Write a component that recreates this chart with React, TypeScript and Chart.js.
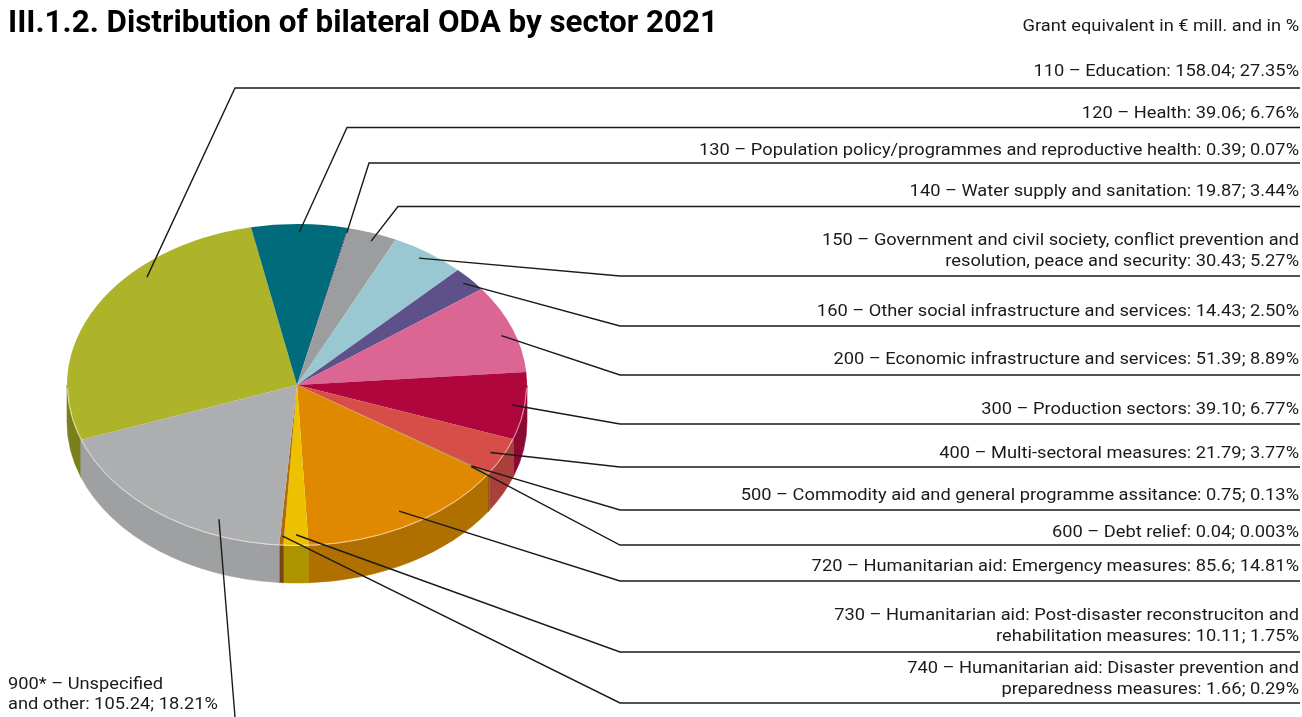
import React, { useEffect, useRef } from "react";
import { Chart, registerables } from "chart.js";
Chart.register(...registerables);

// ---------- data ----------
const codes = ["110", "120", "130", "140", "150", "160", "200", "300", "400", "500", "600", "720", "730", "740", "900*"];
const sectors = [
  "Education",
  "Health",
  "Population policy/programmes and reproductive health",
  "Water supply and sanitation",
  "Government and civil society, conflict prevention and\nresolution, peace and security",
  "Other social infrastructure and services",
  "Economic infrastructure and services",
  "Production sectors",
  "Multi-sectoral measures",
  "Commodity aid and general programme assitance",
  "Debt relief",
  "Humanitarian aid: Emergency measures",
  "Humanitarian aid: Post-disaster reconstruciton and\nrehabilitation measures",
  "Humanitarian aid: Disaster prevention and\npreparedness measures",
  "Unspecified\nand other",
];
const values = [158.04, 39.06, 0.39, 19.87, 30.43, 14.43, 51.39, 39.1, 21.79, 0.75, 0.04, 85.6, 10.11, 1.66, 105.24];
const valueTexts = ["158.04", "39.06", "0.39", "19.87", "30.43", "14.43", "51.39", "39.10", "21.79", "0.75", "0.04", "85.6", "10.11", "1.66", "105.24"];
const shareTexts = ["27.35", "6.76", "0.07", "3.44", "5.27", "2.50", "8.89", "6.77", "3.77", "0.13", "0.003", "14.81", "1.75", "0.29", "18.21"];

const TITLE = "III.1.2. Distribution of bilateral ODA by sector 2021";
const SUBTITLE = "Grant equivalent in € mill. and in %";

// ---------- style / layout ----------
const topColors = ["#aeb42a", "#006c7b", "#7e3f73", "#9c9d9f", "#99c8d3", "#5e5088", "#db6694", "#ae063d", "#d74d48", "#a8862a", "#6b4a1a", "#df8800", "#ecc100", "#b06a0a", "#adaeaf"];
const sideColors = ["#7b7f1b", "#004f5a", "#5a2d53", "#7f8082", "#6f9199", "#433a62", "#a24c6d", "#8c0933", "#a9403b", "#8a6d20", "#5a3d14", "#b07000", "#ad9300", "#7c4414", "#9fa0a2"];
const SQUASH = 0.7;
const DEPTH = 37;
const labelBaselines = [76, 118, 155, 196, 245, 316, 364, 414, 458, 500, 537, 571, 620, 673, 689];
const underlineYs = [88, 127.5, 163, 206.5, 276, 326, 375, 424, 467, 510, 545, 581, 652, 703, 717];
const cornerXs = [235, 347, 369, 398, 620, 620, 620, 620, 620, 620, 620, 620, 620, 620, 235];
const anchorFracs = [0.668, 0.5, 0.5, 0.55, 0.45, 0.5, 0.55, 0.5, 0.5, 0.5, 0.5, 0.5, 0.5, 0.5, 0.27];
const anchorRadii = [0.935, 0.95, 0.97, 0.95, 0.95, 0.96, 0.94, 0.945, 0.94, 0.91, 0.91, 0.9, 0.93, 0.94, 0.9];
const LINE_H = 21;
const RIGHT_X = 1299;
const FONT = "Roboto, 'Noto Sans', sans-serif";

function drawScaled(ctx: CanvasRenderingContext2D, text: string, x: number, y: number, align: CanvasTextAlign, sx: number) {
  ctx.save();
  ctx.translate(x, y);
  ctx.scale(sx, 1);
  ctx.textAlign = align;
  ctx.textBaseline = "alphabetic";
  ctx.fillText(text, 0, 0);
  ctx.restore();
}

const pie3d = {
  id: "pie3d",
  beforeDatasetsDraw(chart: any) {
    const ctx: CanvasRenderingContext2D = chart.ctx;
    const arcs = chart.getDatasetMeta(0).data;
    const a0 = arcs[0];
    const cx = a0.x, cy = a0.y, r = a0.outerRadius;
    const ry = r * SQUASH;
    const TWO = Math.PI * 2;
    arcs.forEach((arc: any, i: number) => {
      let s = arc.startAngle, e = arc.endAngle;
      const off = Math.floor(s / TWO) * TWO;
      s -= off; e -= off;
      for (const [lo, hi] of [[0, Math.PI], [TWO, TWO + Math.PI]]) {
        const a = Math.max(s, lo), b = Math.min(e, hi);
        if (b > a) {
          ctx.beginPath();
          ctx.ellipse(cx, cy, r, ry, 0, a, b, false);
          ctx.lineTo(cx + r * Math.cos(b), cy + DEPTH + ry * Math.sin(b));
          ctx.ellipse(cx, cy + DEPTH, r, ry, 0, b, a, true);
          ctx.closePath();
          ctx.fillStyle = sideColors[i];
          ctx.fill();
          ctx.strokeStyle = sideColors[i];
          ctx.lineWidth = 0.6;
          ctx.stroke();
        }
      }
    });
    ctx.save();
    ctx.translate(0, cy);
    ctx.scale(1, SQUASH);
    ctx.translate(0, -cy);
  },
  afterDatasetsDraw(chart: any) {
    const ctx: CanvasRenderingContext2D = chart.ctx;
    ctx.restore();
    const arcs = chart.getDatasetMeta(0).data;
    const a0 = arcs[0];
    const cx = a0.x, cy = a0.y, r = a0.outerRadius;
    const ry = r * SQUASH;
    // rim highlight on the front edge
    ctx.save();
    ctx.beginPath();
    ctx.ellipse(cx, cy, r - 0.5, ry - 0.5, 0, 0.02, Math.PI - 0.02);
    ctx.strokeStyle = "rgba(255,255,255,0.6)";
    ctx.lineWidth = 1;
    ctx.stroke();
    ctx.restore();
  },
  afterDraw(chart: any) {
    const ctx: CanvasRenderingContext2D = chart.ctx;
    const arcs = chart.getDatasetMeta(0).data;
    const a0 = arcs[0];
    const cx = a0.x, cy = a0.y, r = a0.outerRadius;
    const ry = r * SQUASH;

    ctx.save();
    // title
    ctx.fillStyle = "#000";
    ctx.font = `bold 31px ${FONT}`;
    const tsx = 710 / ctx.measureText(TITLE).width;
    drawScaled(ctx, TITLE, 8, 32, "left", tsx);

    ctx.font = `16px ${FONT}`;
    const lsx = 600 / ctx.measureText(`${codes[2]} – ${sectors[2]}: ${valueTexts[2]}; ${shareTexts[2]}%`).width;
    ctx.fillStyle = "#1a1a1a";
    drawScaled(ctx, SUBTITLE, RIGHT_X, 31, "right", lsx);

    // leader lines
    ctx.strokeStyle = "#1a1a1a";
    ctx.lineWidth = 1.4;
    ctx.lineJoin = "miter";
    arcs.forEach((arc: any, i: number) => {
      const ang = arc.startAngle + anchorFracs[i] * (arc.endAngle - arc.startAngle);
      const px = cx + anchorRadii[i] * r * Math.cos(ang);
      const py = cy + anchorRadii[i] * ry * Math.sin(ang);
      ctx.beginPath();
      ctx.moveTo(px, py);
      ctx.lineTo(cornerXs[i], underlineYs[i]);
      if (i < arcs.length - 1) ctx.lineTo(RIGHT_X + 1, underlineYs[i]);
      ctx.stroke();
    });

    // label texts
    ctx.fillStyle = "#1a1a1a";
    ctx.font = `16px ${FONT}`;
    arcs.forEach((_arc: any, i: number) => {
      const full = `${codes[i]} – ${sectors[i]}: ${valueTexts[i]}; ${shareTexts[i]}%`;
      const lines = full.split("\n");
      const last = i === arcs.length - 1;
      lines.forEach((ln, k) => {
        if (last) drawScaled(ctx, ln, 8, labelBaselines[i] + k * (LINE_H - 1), "left", lsx);
        else drawScaled(ctx, ln, RIGHT_X, labelBaselines[i] + k * LINE_H, "right", lsx);
      });
    });
    ctx.restore();
  },
};

export default function App() {
  const ref = useRef<HTMLCanvasElement>(null);
  useEffect(() => {
    const chart = new Chart(ref.current as HTMLCanvasElement, {
      type: "pie",
      data: {
        labels: codes,
        datasets: [
          {
            data: values,
            backgroundColor: topColors,
            borderWidth: 0,
          },
        ],
      },
      options: {
        responsive: false,
        animation: false,
        events: [],
        rotation: -110,
        layout: { padding: { left: 67, right: 775, top: 155, bottom: 102 } },
        plugins: { legend: { display: false }, tooltip: { enabled: false }, title: { display: false } },
      },
      plugins: [pie3d],
    });
    return () => chart.destroy();
  }, []);
  return (
    <div style={{ position: "fixed", left: 0, top: 0, width: 1302, height: 717, background: "#fff" }}>
      <canvas ref={ref} width={1302} height={717} style={{ display: "block", width: 1302, height: 717 }} />
    </div>
  );
}
